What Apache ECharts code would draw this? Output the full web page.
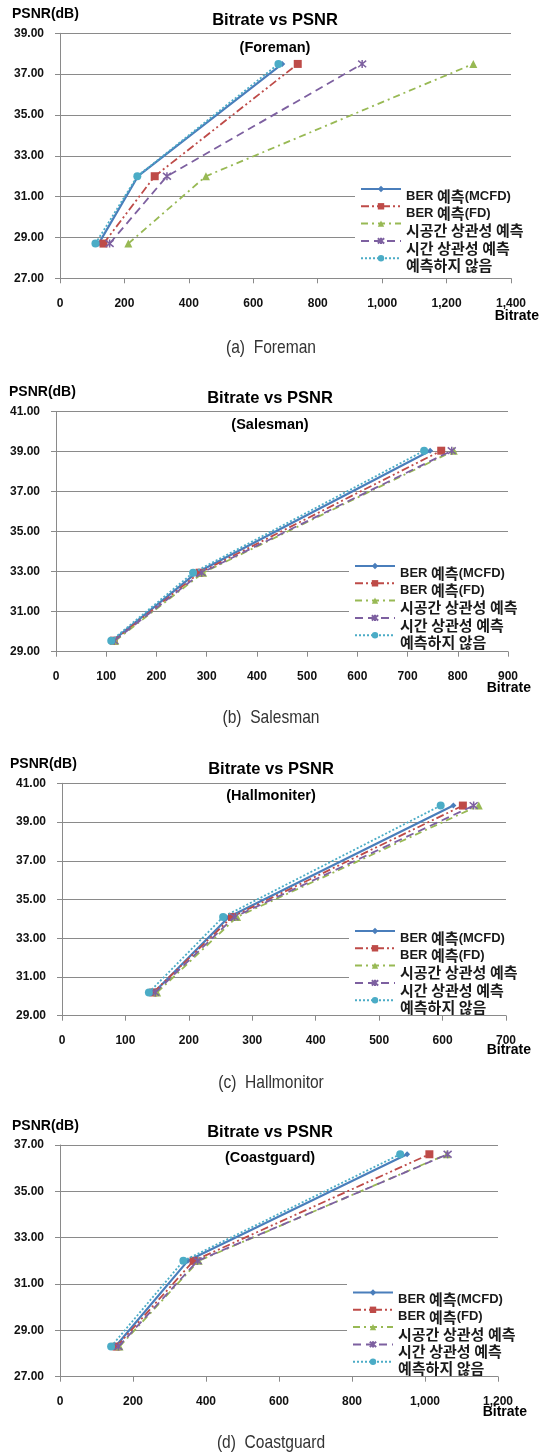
<!DOCTYPE html>
<html><head><meta charset="utf-8">
<script src="https://cdn.jsdelivr.net/npm/echarts@6/dist/echarts.min.js"></script>
<style>html,body{margin:0;padding:0;background:#fff}#c{width:547px;height:1454px}</style>
</head><body><div id="c"></div>
<script>
// ---------- DATA ----------
const seriesNames = ['BER 예측(MCFD)', 'BER 예측(FD)', '시공간 상관성 예측', '시간 상관성 예측', '예측하지 않음'];
const chartTitle = 'Bitrate vs PSNR';
const sequenceNames = ['(Foreman)', '(Salesman)', '(Hallmoniter)', '(Coastguard)'];
const captions = ['(a)  Foreman', '(b)  Salesman', '(c)  Hallmonitor', '(d)  Coastguard'];
const yAxisName = 'PSNR(dB)';
const xAxisName = 'Bitrate';

// axis ranges (tick labels)
const xMin = [0, 0, 0, 0];
const xMax = [1400, 900, 700, 1200];
const xStep = [200, 100, 100, 200];
const yMin = [27, 29, 29, 27];
const yMax = [39, 41, 41, 37];
const yStep = [2, 2, 2, 2];

// Foreman
const foremanPsnr = [28.7, 32.0, 37.5];
const foremanMCFD = [120, 242, 690];
const foremanFD = [135, 294, 738];
const foremanST = [212, 453, 1283];
const foremanT = [154, 332, 938];
const foremanNone = [110, 240, 678];
// Salesman
const salesmanPsnr = [29.55, 32.95, 39.05];
const salesmanMCFD = [113, 280, 745];
const salesmanFD = [115, 286, 767];
const salesmanST = [118, 293, 792];
const salesmanT = [116, 290, 788];
const salesmanNone = [110, 273, 733];
// Hallmonitor
const hallPsnr = [30.2, 34.1, 39.85];
const hallMCFD = [145, 263, 617];
const hallFD = [144, 268, 632];
const hallST = [150, 276, 657];
const hallT = [147, 272, 649];
const hallNone = [137, 254, 597];
// Coastguard
const coastPsnr = [28.3, 32.0, 36.6];
const coastMCFD = [152, 350, 951];
const coastFD = [155, 366, 1012];
const coastST = [163, 380, 1060];
const coastT = [160, 377, 1062];
const coastNone = [140, 338, 932];

const psnrSets = [foremanPsnr, salesmanPsnr, hallPsnr, coastPsnr];
const bitrateSets = [
  [foremanMCFD, foremanFD, foremanST, foremanT, foremanNone],
  [salesmanMCFD, salesmanFD, salesmanST, salesmanT, salesmanNone],
  [hallMCFD, hallFD, hallST, hallT, hallNone],
  [coastMCFD, coastFD, coastST, coastT, coastNone]
];

// ---------- LAYOUT / STYLE ----------
const layout = [
  {grid:{left:60, top:33.3, width:451, height:245}, title:[275,20], sub:[275,48], psnr:[12,14], bitrate:[539,316], caption:[271,348], legend:[355,170.5]},
  {grid:{left:56, top:411.7, width:452, height:240}, title:[270,398], sub:[270,425], psnr:[9,392], bitrate:[531,688], caption:[271,718], legend:[349,547.5]},
  {grid:{left:62, top:783.3, width:444, height:232.4}, title:[271,769], sub:[271,796], psnr:[10,764], bitrate:[531,1050], caption:[271,1083], legend:[349,912.5]},
  {grid:{left:60, top:1145, width:438, height:231.7}, title:[270,1132], sub:[270,1158], psnr:[12,1126], bitrate:[527,1412], caption:[271,1443], legend:[347,1274]}
];
const asterisk = 'path://M0,0L10,10M10,0L0,10M5,-1L5,11';
const styles = [
  {color:'#4A7EBB', type:'solid', width:2.2, symbol:'diamond', size:6},
  {color:'#BE4B48', type:[8,3,2,3,2,3], width:1.8, symbol:'rect', size:8},
  {color:'#98B954', type:[7,4,2,4], width:1.8, symbol:'triangle', size:8},
  {color:'#7D60A0', type:[8,5], width:1.8, symbol:asterisk, size:8},
  {color:'#4BACC6', type:[2,2], width:1.8, symbol:'circle', size:8}
];
const gridColor = '#8a8a8a';
const boldFont = '"Liberation Sans", Arial, sans-serif';
const krFont = '"Noto Sans CJK KR", "Liberation Sans", sans-serif';

const fmtThousands = v => v >= 1000 ? Math.floor(v/1000) + ',' + String(v%1000).padStart(3,'0') : String(v);
// split a legend name into Korean / Latin runs for rich text
const richName = name => name.split(/([\uAC00-\uD7A3]+)/).filter(s => s.length)
  .map(s => /[\uAC00-\uD7A3]/.test(s) ? '{k|' + s + '}' : '{l|' + s + '}').join('');

const grids = [], xAxes = [], yAxes = [], series = [], legends = [], graphics = [];
layout.forEach((L, i) => {
  grids.push(Object.assign({containLabel:false}, L.grid));
  xAxes.push({
    type:'value', gridIndex:i, min:xMin[i], max:xMax[i], interval:xStep[i], z:6,
    axisLine:{show:true, lineStyle:{color:gridColor, width:1}},
    axisTick:{show:true, length:5, inside:false, lineStyle:{color:gridColor}},
    splitLine:{show:false},
    axisLabel:{margin:19, color:'#111', fontWeight:'bold', fontSize:12, fontFamily:boldFont, formatter:fmtThousands}
  });
  yAxes.push({
    type:'value', gridIndex:i, min:yMin[i], max:yMax[i], interval:yStep[i],
    axisLine:{show:true, lineStyle:{color:gridColor, width:1}},
    axisTick:{show:true, length:5, lineStyle:{color:gridColor}},
    splitLine:{show:true, lineStyle:{color:gridColor, width:1}},
    axisLabel:{margin:16, color:'#111', fontWeight:'bold', fontSize:12, fontFamily:boldFont, formatter:v => v.toFixed(2)}
  });
  bitrateSets[i].forEach((xs, s) => {
    const st = styles[s];
    series.push({
      name:seriesNames[s], type:'line', xAxisIndex:i, yAxisIndex:i,
      data: xs.map((x, k) => [x, psnrSets[i][k]]),
      symbol:st.symbol, symbolSize:st.size, showAllSymbol:true,
      lineStyle:{color:st.color, type:st.type, width:st.width},
      itemStyle:{color:st.color, borderColor:st.color, borderWidth: s===3 ? 1.5 : 0},
      z: 2 + s
    });
  });
  legends.push({
    data:seriesNames, orient:'vertical', left:L.legend[0], top:L.legend[1],
    backgroundColor:'#fff', padding:[4, 10, 0, 5],
    itemWidth:40, itemHeight:8, itemGap:-11.7,
    selectedMode:false,
    formatter: richName,
    textStyle:{
      rich:{
        l:{fontFamily:boldFont, fontSize:13, fontWeight:'bold', color:'#1a1a1a', lineHeight:14, padding:[14,0,0,0]},
        k:{fontFamily:krFont, fontSize:15, fontWeight:'bold', color:'#1a1a1a', lineHeight:14, padding:[14,0,0,0]}
      }
    }
  });
  graphics.push(
    {type:'text', x:L.title[0], y:L.title[1], style:{text:chartTitle, font:'bold 16.5px ' + boldFont, fill:'#000', align:'center', verticalAlign:'middle'}},
    {type:'text', x:L.sub[0], y:L.sub[1], style:{text:sequenceNames[i], font:'bold 14.5px ' + boldFont, fill:'#000', align:'center', verticalAlign:'middle'}},
    {type:'text', x:L.psnr[0], y:L.psnr[1], style:{text:yAxisName, font:'bold 14px ' + boldFont, fill:'#000', align:'left', verticalAlign:'middle'}},
    {type:'text', x:L.bitrate[0], y:L.bitrate[1], style:{text:xAxisName, font:'bold 14px ' + boldFont, fill:'#000', align:'right', verticalAlign:'middle'}},
    {type:'text', x:L.caption[0], y:L.caption[1], scaleX:0.82, style:{text:captions[i], font:'19px ' + boldFont, fill:'#333', align:'center', verticalAlign:'middle'}}
  );
});

const chart = echarts.init(document.getElementById('c'), null, {renderer:'canvas'});
chart.setOption({
  animation:false,
  backgroundColor:'#fff',
  grid:grids, xAxis:xAxes, yAxis:yAxes, series:series, legend:legends,
  graphic:graphics
});
</script>
</body></html>
